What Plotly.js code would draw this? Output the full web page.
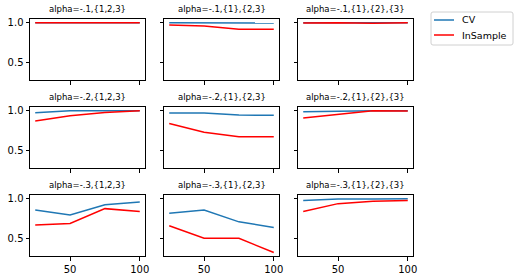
<!DOCTYPE html>
<html><head><meta charset="utf-8">
<script src="https://cdn.plot.ly/plotly-3.0.1.min.js"></script>
<style>html,body{margin:0;padding:0;background:#fff}</style>
</head><body><div id="chart" style="width:516px;height:280px"></div>
<script>
const xs = [25, 50, 75, 100];
const titles = [
  "alpha=-.1,{1,2,3}", "alpha=-.1,{1},{2,3}", "alpha=-.1,{1},{2},{3}",
  "alpha=-.2,{1,2,3}", "alpha=-.2,{1},{2,3}", "alpha=-.2,{1},{2},{3}",
  "alpha=-.3,{1,2,3}", "alpha=-.3,{1},{2,3}", "alpha=-.3,{1},{2},{3}"
];
const seriesNames = ["CV", "InSample"];
const cv = [
  [1.0, 1.0, 1.0, 1.0],
  [1.0, 1.0, 0.995, 0.995],
  [1.0, 1.0, 0.998, 1.0],
  [0.975, 1.0, 1.0, 1.0],
  [0.971, 0.971, 0.946, 0.942],
  [0.988, 0.996, 1.0, 1.0],
  [0.858, 0.796, 0.925, 0.958],
  [0.817, 0.858, 0.708, 0.638],
  [0.979, 0.996, 0.996, 1.0]
];
const inSample = [
  [1.0, 1.0, 0.995, 1.0],
  [0.971, 0.958, 0.917, 0.917],
  [0.996, 1.0, 0.992, 1.0],
  [0.871, 0.938, 0.979, 1.0],
  [0.838, 0.729, 0.671, 0.671],
  [0.908, 0.954, 1.0, 0.996],
  [0.667, 0.688, 0.875, 0.838],
  [0.658, 0.5, 0.5, 0.321],
  [0.838, 0.938, 0.967, 0.979]
];
const xTicks = [50, 100];
const yTicks = [0.5, 1.0];

const W = 516, H = 280;
const colors = ['#1f77b4', 'red'];
const colPx = [[30, 145], [164, 279], [298, 413]];
const rowPx = [[19, 80], [107, 168], [195, 256]];
const px = v => v / W, py = v => 1 - v / H;
const traces = [];
const layout = {
  width: W, height: H,
  margin: {l: 0, r: 0, t: 0, b: 0},
  paper_bgcolor: '#fff', plot_bgcolor: '#fff',
  font: {family: 'DejaVu Sans', size: 10, color: '#000'},
  showlegend: false,
  annotations: [],
  shapes: []
};
for (let i = 0; i < 9; i++) {
  const r = Math.floor(i / 3), c = i % 3;
  const n = i + 1;
  const xa = 'x' + (n === 1 ? '' : n), ya = 'y' + (n === 1 ? '' : n);
  traces.push({x: xs, y: cv[i], type: 'scatter', mode: 'lines', name: seriesNames[0],
    line: {color: colors[0], width: 1.5}, xaxis: xa, yaxis: ya});
  traces.push({x: xs, y: inSample[i], type: 'scatter', mode: 'lines', name: seriesNames[1],
    line: {color: colors[1], width: 1.5}, xaxis: xa, yaxis: ya});
  const axCommon = {showline: true, mirror: true, linecolor: '#000', linewidth: 1,
    ticks: 'outside', ticklen: 3.5, tickwidth: 1, tickcolor: '#000',
    showgrid: false, zeroline: false, tickfont: {size: 10}};
  layout['xaxis' + (n === 1 ? '' : n)] = Object.assign({}, axCommon, {
    domain: [px(colPx[c][0]), px(colPx[c][1])], anchor: ya,
    range: [21.25, 103.75], tickvals: xTicks, ticktext: xTicks.map(String),
    showticklabels: r === 2
  });
  layout['yaxis' + (n === 1 ? '' : n)] = Object.assign({}, axCommon, {
    domain: [py(rowPx[r][1]), py(rowPx[r][0])], anchor: xa,
    range: [0.277, 1.047], tickvals: yTicks, ticktext: yTicks.map(v => v.toFixed(1)),
    showticklabels: c === 0
  });
  layout.annotations.push({
    text: titles[i], xref: 'paper', yref: 'paper',
    x: px((colPx[c][0] + colPx[c][1]) / 2), y: py(rowPx[r][0] - 3),
    xanchor: 'center', yanchor: 'bottom', showarrow: false,
    font: {size: 8.5, family: 'DejaVu Sans'}
  });
}
// custom legend (matplotlib-style)
const lg = {x0: 431, x1: 513, y0: 12, y1: 45, r: 2};
const rr = `M ${px(lg.x0 + lg.r)},${py(lg.y0)} L ${px(lg.x1 - lg.r)},${py(lg.y0)} Q ${px(lg.x1)},${py(lg.y0)} ${px(lg.x1)},${py(lg.y0 + lg.r)} L ${px(lg.x1)},${py(lg.y1 - lg.r)} Q ${px(lg.x1)},${py(lg.y1)} ${px(lg.x1 - lg.r)},${py(lg.y1)} L ${px(lg.x0 + lg.r)},${py(lg.y1)} Q ${px(lg.x0)},${py(lg.y1)} ${px(lg.x0)},${py(lg.y1 - lg.r)} L ${px(lg.x0)},${py(lg.y0 + lg.r)} Q ${px(lg.x0)},${py(lg.y0)} ${px(lg.x0 + lg.r)},${py(lg.y0)} Z`;
layout.shapes.push({type: 'path', xref: 'paper', yref: 'paper', path: rr,
  line: {color: '#d0d0d0', width: 1}, fillcolor: 'rgba(255,255,255,0.8)'});
const legendY = [20, 35];
seriesNames.forEach((nm, k) => {
  layout.shapes.push({type: 'line', xref: 'paper', yref: 'paper',
    x0: px(434), x1: px(454), y0: py(legendY[k]), y1: py(legendY[k]),
    line: {color: colors[k], width: 1.5}});
  layout.annotations.push({text: nm, xref: 'paper', yref: 'paper',
    x: px(460), y: py(legendY[k]), xanchor: 'left', yanchor: 'middle',
    showarrow: false, font: {size: 9.5, family: 'DejaVu Sans'}});
});
Plotly.newPlot('chart', traces, layout, {displayModeBar: false, staticPlot: true});
</script></body></html>
